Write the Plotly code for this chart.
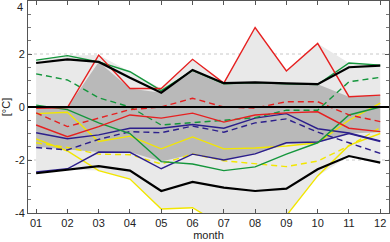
import numpy as np
import plotly.graph_objects as go

months = ["01", "02", "03", "04", "05", "06", "07", "08", "09", "10", "11", "12"]
x = list(range(1, 13))

black_hi = [1.66, 1.8, 1.7, 1.1, 0.54, 1.4, 0.9, 0.93, 0.89, 0.86, 1.5, 1.56]
black_lo = [-2.5, -2.36, -2.23, -2.4, -3.17, -2.83, -3.04, -3.17, -3.08, -2.35, -1.85, -2.1]
green_hi = [1.77, 1.94, 1.7, 1.33, 0.62, 1.38, 0.88, 0.92, 0.88, 0.85, 1.66, 1.58]
green_mid = [1.25, 1.02, 0.35, 0.0, -0.68, -0.6, -0.5, -0.4, -0.12, -0.12, 0.95, 1.12]
green_lo = [0.07, -0.1, -0.6, -1.0, -2.06, -2.15, -2.4, -2.26, -1.78, -1.35, -0.3, 0.0]
red_hi = [-0.05, -0.02, 1.96, 0.7, 0.7, 1.8, 0.9, 3.0, 1.36, 2.4, 0.39, 0.45]
red_mid = [-0.22, -0.74, -0.42, -0.1, 0.0, 0.33, 0.0, -0.04, 0.2, 0.2, -0.3, -0.55]
red_lo = [-0.68, -1.12, -0.74, -0.3, -0.42, -0.23, -0.57, -0.3, -0.22, -0.18, -0.8, -0.93]
navy_hi = [-0.97, -1.2, -1.05, -0.8, -0.8, -0.66, -0.8, -0.42, -0.25, -0.82, -0.98, -1.28]
navy_mid = [-1.53, -1.62, -1.22, -0.93, -0.97, -0.72, -0.95, -0.6, -0.45, -0.95, -1.35, -1.75]
navy_lo = [-2.45, -2.33, -1.7, -1.71, -2.33, -1.78, -2.0, -1.77, -1.35, -1.32, -1.0, -1.3]
yellow_hi = [-0.25, -0.2, -1.3, -1.1, -1.58, -1.13, -1.58, -1.55, -1.47, -1.35, -0.5, 0.15]
yellow_mid = [-1.35, -1.53, -1.78, -1.8, -2.15, -1.77, -2.03, -2.15, -2.25, -2.04, -1.47, -0.78]
yellow_lo = [-1.2, -1.66, -2.4, -2.72, -3.85, -3.8, -4.5, -4.6, -4.1, -2.6, -1.45, -1.0]

dark_hi = [-0.05, -0.02, 1.7, 0.7, 0.54, 1.4, 0.9, 0.93, 0.89, 0.86, 0.39, 0.45]
dark_lo = [-1.5, -1.6, -1.7, -1.7, -2.06, -1.78, -2.0, -1.77, -1.4, -1.35, -1.0, -0.95]

y_tickvals = [-4, -2, 0, 2]
y_ticktext = ["-4", "-2", "0", "2"]

his = np.array([black_hi, green_hi, red_hi, navy_hi, yellow_hi])
los = np.array([black_lo, green_lo, red_lo, navy_lo, yellow_lo])
env_hi = his.max(axis=0).tolist()
env_lo = los.min(axis=0).tolist()

fig = go.Figure()

def band(upper, lower, color):
    fig.add_trace(go.Scatter(x=x + x[::-1], y=list(upper) + list(lower)[::-1],
                             fill="toself", fillcolor=color, mode="none",
                             hoverinfo="skip", showlegend=False))

band(env_hi, env_lo, "#e9e9e9")
band(dark_hi, dark_lo, "#b9b9b9")

GREEN = "#14963c"
RED = "#e62020"
NAVY = "#2c1f8c"
YEL = "#f2e600"

def line(y, color, width=1.4, dash="solid"):
    fig.add_trace(go.Scatter(x=x, y=y, mode="lines",
                             line=dict(color=color, width=width, dash=dash),
                             hoverinfo="skip", showlegend=False))

for c, hi, mid, lo in [(YEL, yellow_hi, yellow_mid, yellow_lo),
                       (NAVY, navy_hi, navy_mid, navy_lo),
                       (GREEN, green_hi, green_mid, green_lo),
                       (RED, red_hi, red_mid, red_lo)]:
    line(hi, c)
    line(lo, c)
    line(mid, c, dash="6px,4px")

line(black_hi, "black", width=2.2)
line(black_lo, "black", width=2.2)

# zero line
fig.add_shape(type="line", xref="paper", x0=0, x1=1, yref="y", y0=0, y1=0,
              line=dict(color="black", width=2))
# dotted grid lines
for gy in (2, -2):
    fig.add_shape(type="line", xref="paper", x0=0, x1=1, yref="y", y0=gy, y1=gy,
                  line=dict(color="#c8c8c8", width=1, dash="dot"), layer="below")

# top tick label kept inside the page
fig.add_annotation(text="4", xref="paper", x=0, xanchor="right", xshift=-3,
                   yref="y", y=4, yanchor="top", yshift=2, showarrow=False,
                   font=dict(size=11, color="#222"))

axis_font = dict(family="Liberation Sans, Arial, sans-serif", size=11, color="#222")
fig.update_layout(
    width=390, height=242,
    margin=dict(l=28, r=1, t=1, b=29),
    plot_bgcolor="white", paper_bgcolor="white",
    font=axis_font,
    xaxis=dict(range=[0.74, 12.28], tickmode="array", tickvals=x, ticktext=months,
               ticks="inside", ticklen=4, tickcolor="#555", showgrid=False,
               showline=True, linecolor="#555", linewidth=1, mirror="ticks",
               zeroline=False,
               title=dict(text="month", font=dict(size=11), standoff=3)),
    yaxis=dict(range=[-4, 4], tickmode="array", tickvals=y_tickvals, ticktext=y_ticktext,
               ticks="inside", ticklen=4, tickcolor="#555", showgrid=False,
               showline=True, linecolor="#555", linewidth=1, mirror="ticks",
               zeroline=False,
               minor=dict(dtick=0.5, ticks="inside", ticklen=3, tickcolor="#777"),
               title=dict(text="[°C]", font=dict(size=11), standoff=6)),
)

fig.write_html("out.html", config={"displayModeBar": False},
               post_script="document.body.style.margin='0px';document.body.style.overflow='hidden';")
